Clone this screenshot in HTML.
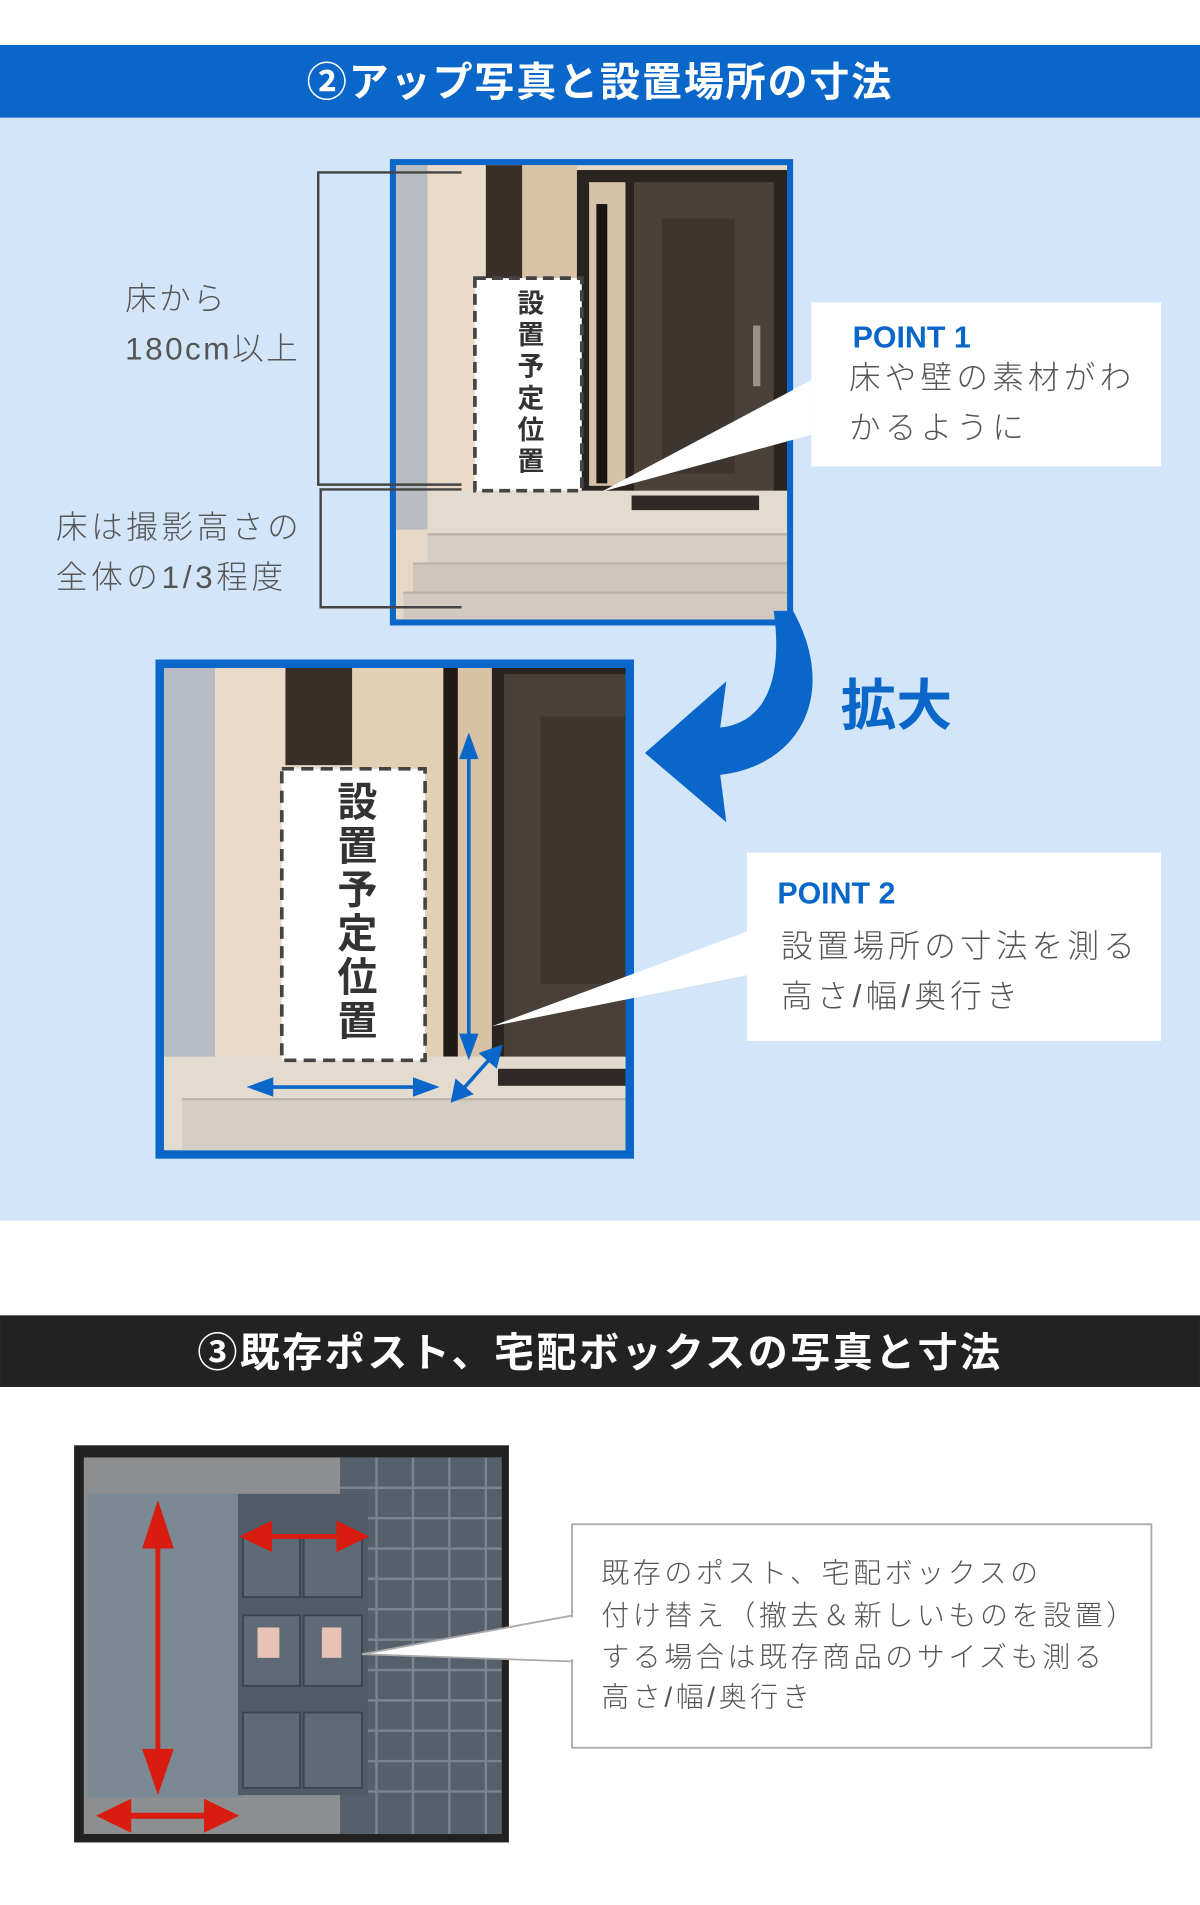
<!DOCTYPE html>
<html><head><meta charset="utf-8"><style>
html,body{margin:0;padding:0;background:#fff}
svg{display:block}
text{font-family:"Liberation Sans","Noto Sans CJK JP",sans-serif}
.lt{font-weight:300}
</style></head><body>
<svg width="1200" height="1905" viewBox="0 0 988 1568.5" xmlns="http://www.w3.org/2000/svg">
<rect x="0" y="0" width="988" height="1569" fill="#fff"/>
<!-- section 2 -->
<rect x="0" y="37" width="988" height="60" fill="#0a66c8"/>
<text x="494" y="79" text-anchor="middle" font-size="33" font-weight="bold" fill="#fff" letter-spacing="1.5">②アップ写真と設置場所の寸法</text>
<rect x="0" y="97" width="988" height="908" fill="#d3e6f9"/>

<!-- photo 1 -->
<rect x="321" y="131" width="332" height="384" fill="#0a66c8"/>
<g>
<rect x="326" y="136" width="322" height="374" fill="#e6d8c6"/>
<rect x="326" y="136" width="26" height="300" fill="#b9bcc2"/>
<rect x="352" y="136" width="48" height="270" fill="#eadbc8"/>
<rect x="400" y="136" width="30" height="270" fill="#3a2f28"/>
<rect x="430" y="136" width="45" height="270" fill="#d9c3a4"/>
<rect x="475" y="140" width="173" height="266" fill="#2a2420"/>
<rect x="485" y="150" width="30" height="250" fill="#d6c2a8"/>
<rect x="491" y="168" width="9" height="230" fill="#1a1512"/>
<rect x="522" y="150" width="115" height="256" fill="#4c4138"/>
<rect x="545" y="180" width="60" height="210" fill="#3e352e"/>
<rect x="620" y="268" width="6" height="50" fill="#9a9088"/>
<rect x="352" y="404" width="296" height="36" fill="#e4dbd0"/>
<rect x="352" y="440" width="296" height="24" fill="#d6cec4"/>
<rect x="340" y="464" width="308" height="24" fill="#cec6bb"/>
<rect x="332" y="488" width="316" height="22" fill="#d2cac0"/>
<line x1="352" y1="440" x2="648" y2="440" stroke="#bdb4aa" stroke-width="2"/>
<line x1="340" y1="464" x2="648" y2="464" stroke="#bdb4aa" stroke-width="2"/>
<line x1="332" y1="488" x2="648" y2="488" stroke="#bdb4aa" stroke-width="2"/>
<rect x="520" y="408" width="105" height="12" fill="#2f2a27"/>
</g>
<rect x="391" y="229" width="88" height="175" fill="#fff" stroke="#444" stroke-width="3" stroke-dasharray="9,5"/>
<text x="435" y="238" font-size="22" font-weight="bold" fill="#333" style="writing-mode:vertical-rl" letter-spacing="4">設置予定位置</text>
<!-- brackets -->
<polyline points="380,142 262,142 262,399 380,399" fill="none" stroke="#444" stroke-width="2"/>
<polyline points="380,403 264,403 264,500 380,500" fill="none" stroke="#444" stroke-width="2"/>
<text class="lt" x="103" y="255" font-size="26" fill="#555" letter-spacing="2">床から</text>
<text class="lt" x="103" y="296" font-size="26" fill="#555" letter-spacing="2">180cm以上</text>
<text class="lt" x="46" y="443" font-size="26" fill="#555" letter-spacing="3">床は撮影高さの</text>
<text class="lt" x="46" y="484" font-size="26" fill="#555" letter-spacing="3">全体の1/3程度</text>
<!-- point1 -->
<polygon points="668,313 668,358 495,405" fill="#fff"/>
<rect x="668" y="249" width="288" height="135" fill="#fff"/>
<text x="702" y="286" font-size="25" font-weight="bold" fill="#0a66c8">POINT 1</text>
<text class="lt" x="699" y="320" font-size="26" fill="#555" letter-spacing="3.5">床や壁の素材がわ</text>
<text class="lt" x="699" y="361" font-size="26" fill="#555" letter-spacing="3.5">かるように</text>

<!-- curved arrow -->
<path d="M637,503 C645,560 630,595 593,599 L598,561 L531,620 L598,677 L593,638 C660,630 690,570 653,503 Z" fill="#0a66c8"/>
<text x="692" y="597" font-size="46" font-weight="bold" fill="#0a66c8">拡大</text>

<!-- photo 2 -->
<rect x="128" y="543" width="394" height="411" fill="#0a66c8"/>
<g>
<rect x="135" y="550" width="380" height="397" fill="#e8dac8"/>
<rect x="135" y="550" width="42" height="340" fill="#b8bcc4"/>
<rect x="177" y="550" width="58" height="330" fill="#eadbc8"/>
<rect x="235" y="550" width="55" height="80" fill="#3a2f28"/>
<rect x="290" y="550" width="75" height="330" fill="#e3cfb4"/>
<rect x="365" y="550" width="12" height="320" fill="#1f1a16"/>
<rect x="377" y="550" width="28" height="320" fill="#d8c2a6"/>
<rect x="405" y="550" width="110" height="320" fill="#2a2420"/>
<rect x="415" y="555" width="100" height="315" fill="#4a4037"/>
<rect x="445" y="590" width="70" height="220" fill="#3e352e"/>
<rect x="135" y="870" width="380" height="77" fill="#e4dbd0"/>
<rect x="150" y="905" width="365" height="42" fill="#d6cec4"/>
<line x1="150" y1="905" x2="515" y2="905" stroke="#bdb4aa" stroke-width="2"/>
<rect x="410" y="880" width="105" height="14" fill="#2f2a27"/>
</g>
<rect x="232" y="633" width="118" height="240" fill="#fff" stroke="#444" stroke-width="3" stroke-dasharray="10,6"/>
<text x="291" y="643" font-size="33" font-weight="bold" fill="#333" style="writing-mode:vertical-rl" letter-spacing="3">設置予定位置</text>
<!-- blue measure arrows -->
<g fill="#0a66c8" stroke="#0a66c8">
<line x1="386" y1="620" x2="386" y2="860" stroke-width="3"/>
<polygon points="386,603 378,625 394,625" stroke="none"/>
<polygon points="386,873 378,851 394,851" stroke="none"/>
<line x1="218" y1="895" x2="348" y2="895" stroke-width="3"/>
<polygon points="203,895 225,887 225,903" stroke="none"/>
<polygon points="362,895 340,887 340,903" stroke="none"/>
<line x1="380" y1="898" x2="405" y2="870" stroke-width="3"/>
<polygon points="371,908 375,888 390,901" stroke="none"/>
<polygon points="414,860 394,867 409,880" stroke="none"/>
</g>
<!-- point2 -->
<polygon points="615,767 615,803 405,845" fill="#fff"/>
<rect x="615" y="702" width="341" height="155" fill="#fff"/>
<text x="640" y="744" font-size="25" font-weight="bold" fill="#0a66c8">POINT 2</text>
<text class="lt" x="643" y="788" font-size="26" fill="#555" letter-spacing="3.5">設置場所の寸法を測る</text>
<text class="lt" x="643" y="829" font-size="26" fill="#555" letter-spacing="3.5">高さ/幅/奥行き</text>

<!-- section 3 -->
<rect x="0" y="1083" width="988" height="59" fill="#222"/>
<text x="494" y="1125" text-anchor="middle" font-size="33" font-weight="bold" fill="#fff" letter-spacing="2">③既存ポスト、宅配ボックスの写真と寸法</text>

<rect x="61" y="1190" width="358" height="327" fill="#222"/>
<g>
<rect x="69" y="1200" width="344" height="310" fill="#8c8e8f"/>
<rect x="280" y="1200" width="133" height="310" fill="#55606a"/>
<g stroke="#7a858f" stroke-width="2">
<line x1="280" y1="1225" x2="413" y2="1225"/><line x1="280" y1="1250" x2="413" y2="1250"/><line x1="280" y1="1275" x2="413" y2="1275"/><line x1="280" y1="1300" x2="413" y2="1300"/><line x1="280" y1="1325" x2="413" y2="1325"/><line x1="280" y1="1350" x2="413" y2="1350"/><line x1="280" y1="1375" x2="413" y2="1375"/><line x1="280" y1="1400" x2="413" y2="1400"/><line x1="280" y1="1425" x2="413" y2="1425"/><line x1="280" y1="1450" x2="413" y2="1450"/><line x1="280" y1="1475" x2="413" y2="1475"/>
<line x1="310" y1="1200" x2="310" y2="1510"/><line x1="340" y1="1200" x2="340" y2="1510"/><line x1="370" y1="1200" x2="370" y2="1510"/><line x1="400" y1="1200" x2="400" y2="1510"/>
</g>
<rect x="72" y="1230" width="128" height="250" fill="#7a8894"/>
<rect x="196" y="1230" width="107" height="248" fill="#4f5c68"/>
<g fill="#5e6b77" stroke="#3a444e" stroke-width="1.5">
<rect x="200" y="1265" width="47" height="50"/><rect x="250" y="1265" width="48" height="50"/>
<rect x="200" y="1330" width="47" height="58"/><rect x="250" y="1330" width="48" height="58"/>
<rect x="200" y="1410" width="47" height="62"/><rect x="250" y="1410" width="48" height="62"/>
</g>
<rect x="212" y="1340" width="18" height="25" fill="#e8c3b5"/>
<rect x="265" y="1340" width="16" height="25" fill="#e8c3b5"/>
</g>
<g fill="#d91c10" stroke="#d91c10">
<line x1="130" y1="1260" x2="130" y2="1455" stroke-width="4"/>
<polygon points="130,1235 117,1275 143,1275" stroke="none"/>
<polygon points="130,1478 117,1440 143,1440" stroke="none"/>
<line x1="220" y1="1265" x2="282" y2="1265" stroke-width="4"/>
<polygon points="197,1265 224,1252 224,1278" stroke="none"/>
<polygon points="304,1265 277,1252 277,1278" stroke="none"/>
<line x1="100" y1="1495" x2="175" y2="1495" stroke-width="5"/>
<polygon points="79,1495 108,1481 108,1509" stroke="none"/>
<polygon points="197,1495 168,1481 168,1509" stroke="none"/>
</g>
<!-- box 3 -->
<polygon points="472,1330 472,1368 298,1362" fill="#fff" stroke="#aaa" stroke-width="1.5"/>
<rect x="471" y="1255" width="477" height="184" fill="#fff" stroke="#aaa" stroke-width="1.5"/>
<rect x="469" y="1332" width="5" height="34" fill="#fff"/>
<text class="lt" x="495" y="1303" font-size="23" fill="#555" letter-spacing="3">既存のポスト、宅配ボックスの</text>
<text class="lt" x="495" y="1338" font-size="23" fill="#555" letter-spacing="3">付け替え（撤去＆新しいものを設置）</text>
<text class="lt" x="495" y="1372" font-size="23" fill="#555" letter-spacing="3">する場合は既存商品のサイズも測る</text>
<text class="lt" x="495" y="1405" font-size="23" fill="#555" letter-spacing="3">高さ/幅/奥行き</text>
</svg>
</body></html>
